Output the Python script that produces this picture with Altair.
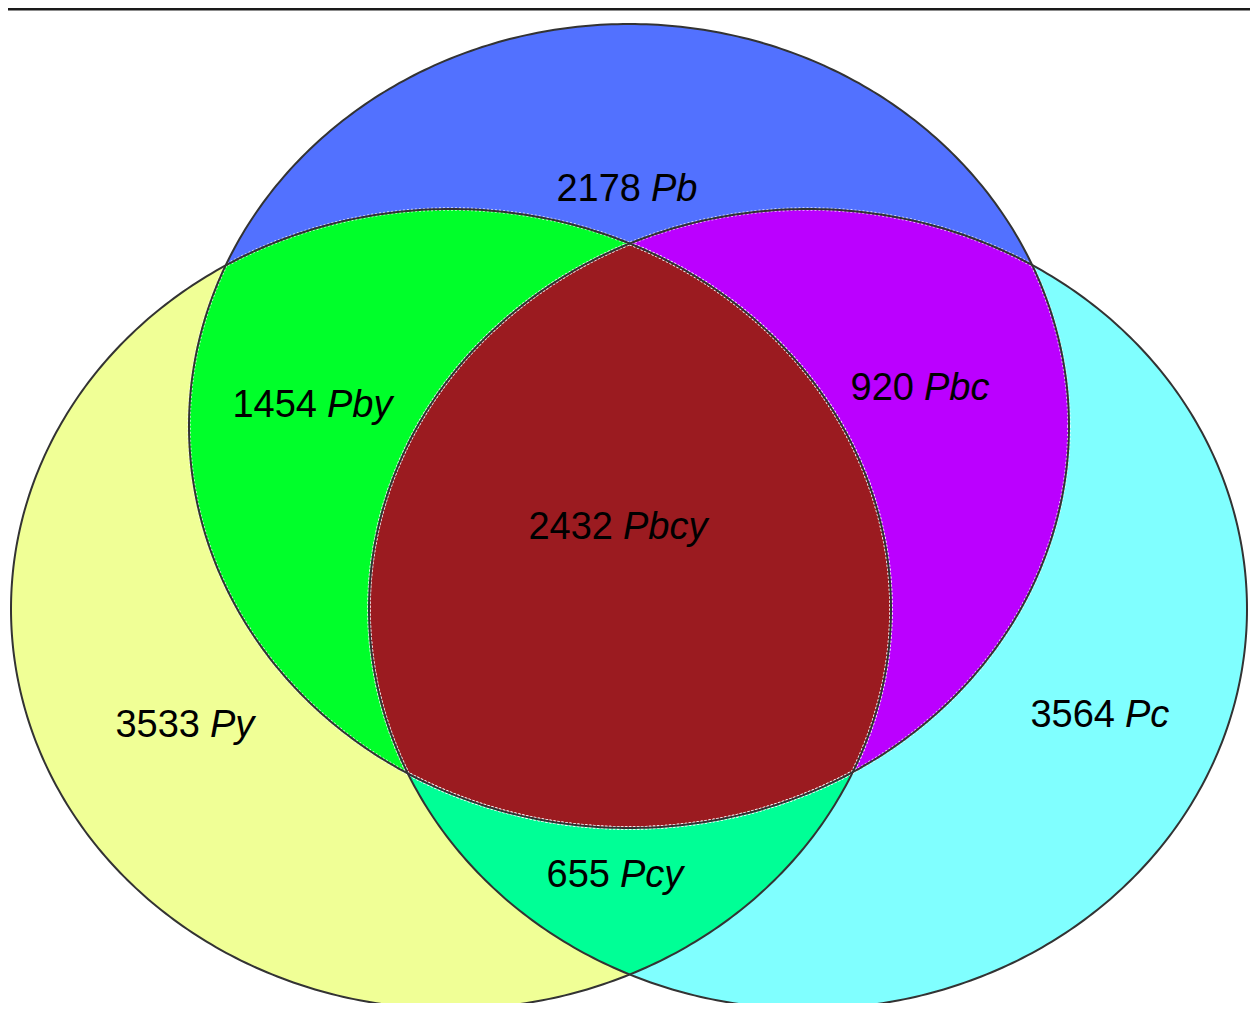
import altair as alt

# ---------------- data ----------------
# regions in drawing order
regions = ["Py", "Pc", "Pcy", "Pb", "Pby", "Pbc", "Pbcy"]
counts = [3533, 3564, 655, 2178, 1454, 920, 2432]
colors = ["#F0FF96", "#80FFFF", "#00FF96", "#5271FF", "#00FF2A", "#BB00FF", "#9B1B20"]
membership = [["y"], ["c"], ["y", "c"], ["b"], ["b", "y"], ["b", "c"], ["b", "c", "y"]]

# ---------------- layout (pixel geometry of the diagram) ----------------
ELLIPSES = {
    "b": (629, 426, 440, 402),
    "y": (451, 609, 440, 400),
    "c": (808, 609, 439, 400),
}
LABEL_ANCHOR = {
    "Py": (205, 723), "Pc": (1120, 713), "Pcy": (615, 873), "Pb": (646, 187),
    "Pby": (322, 403), "Pbc": (919, 386), "Pbcy": (618, 525),
}
N = 480


def ellipse_poly(key):
    import math
    cx, cy, rx, ry = ELLIPSES[key]
    return [(cx + rx * math.cos(2 * math.pi * i / N), cy + ry * math.sin(2 * math.pi * i / N)) for i in range(N)]


def signed_area(p):
    return sum(p[i][0] * p[(i + 1) % len(p)][1] - p[(i + 1) % len(p)][0] * p[i][1] for i in range(len(p))) / 2


def clip(subject, clipper):
    sign = 1 if signed_area(clipper) > 0 else -1
    out = list(subject)
    n = len(clipper)
    for i in range(n):
        a, b = clipper[i], clipper[(i + 1) % n]

        def inside(p):
            return sign * ((b[0] - a[0]) * (p[1] - a[1]) - (b[1] - a[1]) * (p[0] - a[0])) >= 0

        def inter(s, e):
            x1, y1 = s
            x2, y2 = e
            x3, y3 = a
            x4, y4 = b
            den = (x1 - x2) * (y3 - y4) - (y1 - y2) * (x3 - x4)
            t = ((x1 - x3) * (y3 - y4) - (y1 - y3) * (x3 - x4)) / den
            return (x1 + t * (x2 - x1), y1 + t * (y2 - y1))

        inp, out = out, []
        if not inp:
            break
        s = inp[-1]
        for e in inp:
            if inside(e):
                if not inside(s):
                    out.append(inter(s, e))
                out.append(e)
            elif inside(s):
                out.append(inter(s, e))
            s = e
    return out


def feature(poly, props):
    ring = [[round(x, 2), round(y, 2)] for x, y in poly]
    ring.append(ring[0])
    return {"type": "Feature", "properties": props, "geometry": {"type": "Polygon", "coordinates": [ring]}}


region_features = []
for r, c, mem in zip(regions, colors, membership):
    poly = ellipse_poly(mem[0])
    for k in mem[1:]:
        poly = clip(poly, ellipse_poly(k))
    region_features.append(feature(poly, {"region": r, "fill": c}))

outline_features = [feature(ellipse_poly(k), {"set": k}) for k in ["y", "c", "b"]]
dash_features = [f for f in region_features if f["properties"]["region"] in ("Pby", "Pbc", "Pbcy")]

labels = [
    {"region": r, "count": str(n), "lx": LABEL_ANCHOR[r][0], "ly": LABEL_ANCHOR[r][1]}
    for r, n in zip(regions, counts)
]

proj = dict(type="identity", scale=1, translate=[-8, -8])

fills = alt.Chart(alt.Data(values=region_features)).mark_geoshape(
    strokeWidth=0
).encode(
    fill=alt.Fill("properties.fill:N", scale=None)
).project(**proj)

dashes = alt.Chart(alt.Data(values=dash_features)).mark_geoshape(
    fillOpacity=0, stroke="#ffffff", strokeWidth=3.6, strokeDash=[2, 2], strokeOpacity=0.8
).project(**proj)

outlines = alt.Chart(alt.Data(values=outline_features)).mark_geoshape(
    fillOpacity=0, stroke="#333333", strokeWidth=2
).project(**proj)

nums = alt.Chart(alt.Data(values=labels)).mark_text(
    align="right", baseline="middle", dx=-5, dy=3, fontSize=38, font="Liberation Sans", color="#000000"
).encode(
    longitude="lx:Q", latitude="ly:Q", text="count:N"
).project(**proj)

names = alt.Chart(alt.Data(values=labels)).mark_text(
    align="left", baseline="middle", dx=5, dy=3, fontSize=38, font="Liberation Sans",
    fontStyle="italic", color="#000000"
).encode(
    longitude="lx:Q", latitude="ly:Q", text="region:N"
).project(**proj)

top_rule = alt.Chart(alt.Data(values=[{"a": 1}])).mark_rule(
    color="#1a1a1a", strokeWidth=2.5
).encode(x=alt.value(0), x2=alt.value(1242), y=alt.value(1.2))

chart = alt.layer(fills, dashes, outlines, nums, names, top_rule).properties(
    width=1242, height=995, padding=0, background="#ffffff",
    autosize=alt.AutoSizeParams(type="none")
).configure_view(stroke=None)

chart.save("out.html", embed_options={"renderer": "svg", "actions": False})
